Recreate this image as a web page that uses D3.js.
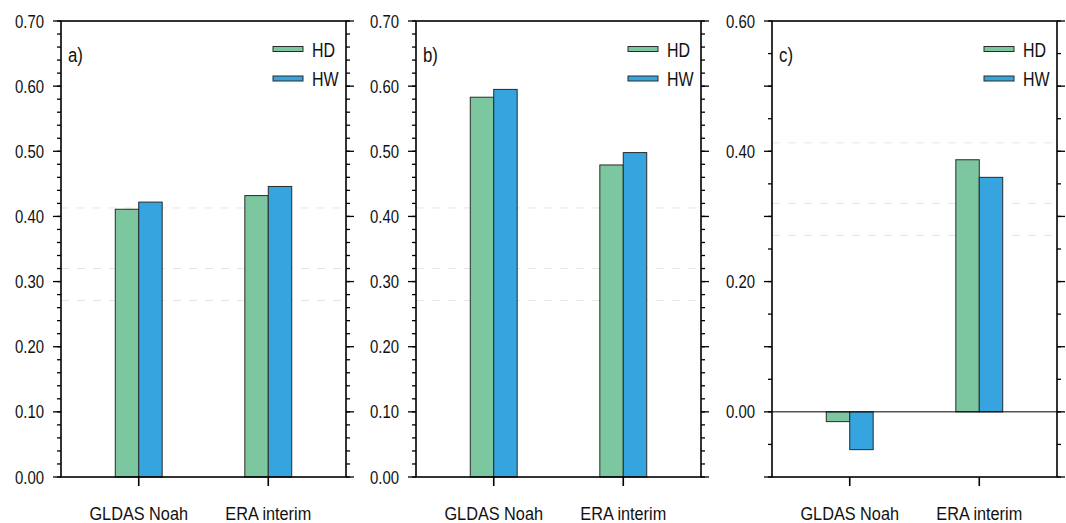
<!DOCTYPE html>
<html lang="en">
<head>
<meta charset="UTF-8">
<title>HD / HW bar panels</title>
<script src="https://d3js.org/d3.v7.min.js"></script>
<style>
    body { margin: 0; background: #fff; }
    svg text { font-family: "Liberation Sans", Arial, Helvetica, sans-serif; fill: #111; }
    .frame { fill: none; stroke: #000; stroke-width: 1.6px; }
    .ref-line { stroke: #e6e6e6; stroke-width: 1px; stroke-dasharray: 8 8; }
    .bar { stroke: #2a2a2a; stroke-width: 1px; }
</style>
</head>
<body>
<svg id="chart" width="1066" height="523"></svg>
<script>
    const categories = ["GLDAS Noah", "ERA interim"];
    const seriesNames = ["HD", "HW"];
    const seriesColors = ["#7cc7a0", "#36a5df"];

    const panelA_HD = [0.411, 0.432];
    const panelA_HW = [0.422, 0.446];
    const panelB_HD = [0.583, 0.479];
    const panelB_HW = [0.595, 0.498];
    const panelC_HD = [-0.015, 0.387];
    const panelC_HW = [-0.058, 0.360];

    // faint dashed reference levels (same in every panel)
    const refLevels = [0.413, 0.320, 0.271];

    const ticksAB = [0, 0.1, 0.2, 0.3, 0.4, 0.5, 0.6, 0.7];
    const ticksC = [0, 0.2, 0.4, 0.6];

    const panels = [
        { label: "a)", left: 61, hd: panelA_HD, hw: panelA_HW, domain: [0, 0.7], labels: ticksAB, major: 0.1, minor: 0.02 },
        { label: "b)", left: 416, hd: panelB_HD, hw: panelB_HW, domain: [0, 0.7], labels: ticksAB, major: 0.1, minor: 0.02 },
        { label: "c)", left: 772, hd: panelC_HD, hw: panelC_HW, domain: [-0.1, 0.6], labels: ticksC, major: 0.1, minor: 0.05, zero: true }
    ];

    const plotTop = 21, plotBottom = 477, pw = 285;
    const svg = d3.select("#chart");

    // condensed text: the original uses a narrow Helvetica
    function narrowText(g, x, y, str, size, sx, anchor) {
        return g.append("text")
            .attr("transform", `translate(${x},${y}) scale(${sx},1)`)
            .attr("font-size", size)
            .attr("text-anchor", anchor || "start")
            .text(str);
    }

    panels.forEach(p => {
        const g = svg.append("g").attr("transform", `translate(${p.left},${plotTop})`);
        const h = plotBottom - plotTop;

        const x = d3.scaleLinear().domain([0.4, 2.6]).range([0, pw]);
        const y = d3.scaleLinear().domain(p.domain).range([h, 0]);
        const barW = x(1.181) - x(1);

        // reference dashes behind bars
        g.selectAll(".ref-line")
            .data(refLevels)
            .join("line")
            .attr("class", "ref-line")
            .attr("x1", 0).attr("x2", pw)
            .attr("y1", d => y(d)).attr("y2", d => y(d));

        // bars
        const rows = categories.map((c, i) => [p.hd[i], p.hw[i]]);
        rows.forEach((vals, i) => {
            vals.forEach((v, s) => {
                const x0 = s === 0 ? x(i + 1) - barW : x(i + 1);
                g.append("rect")
                    .attr("class", "bar")
                    .attr("x", x0)
                    .attr("width", barW)
                    .attr("y", y(Math.max(0, v)))
                    .attr("height", Math.abs(y(v) - y(0)))
                    .attr("fill", seriesColors[s]);
            });
        });

        if (p.zero) {
            g.append("line")
                .attr("x1", 0).attr("x2", pw)
                .attr("y1", y(0)).attr("y2", y(0))
                .attr("stroke", "#000").attr("stroke-width", 1);
        }

        // minor + major ticks, both sides, outward
        const minorVals = d3.range(p.domain[0], p.domain[1] + 1e-9, p.minor);
        const majorVals = d3.range(p.domain[0], p.domain[1] + 1e-9, p.major);
        [[minorVals, 4], [majorVals, 8]].forEach(([vals, len]) => {
            g.append("g").selectAll("line").data(vals).join("line")
                .attr("x1", -len).attr("x2", 0)
                .attr("y1", d => y(d)).attr("y2", d => y(d))
                .attr("stroke", "#000").attr("stroke-width", 1.3);
            g.append("g").selectAll("line").data(vals).join("line")
                .attr("x1", pw).attr("x2", pw + len)
                .attr("y1", d => y(d)).attr("y2", d => y(d))
                .attr("stroke", "#000").attr("stroke-width", 1.3);
        });

        // y labels
        p.labels.forEach(v => {
            narrowText(g, -17, y(v) + 6.5, d3.format(".2f")(v), 18, 0.83, "end");
        });

        // x ticks + labels
        categories.forEach((c, i) => {
            g.append("line")
                .attr("x1", x(i + 1)).attr("x2", x(i + 1))
                .attr("y1", h).attr("y2", h + 9)
                .attr("stroke", "#000").attr("stroke-width", 1.6);
            narrowText(g, x(i + 1), h + 43, c, 18.5, 0.88, "middle");
        });

        g.append("rect").attr("class", "frame")
            .attr("x", 0).attr("y", 0).attr("width", pw).attr("height", h);

        // panel label
        narrowText(g, 7, 41, p.label, 21, 0.8);

        // legend
        seriesNames.forEach((name, s) => {
            const ly = 28 + s * 29.5;
            g.append("rect")
                .attr("x", 212).attr("y", ly - 2.5)
                .attr("width", 30).attr("height", 5)
                .attr("fill", seriesColors[s])
                .attr("stroke", "#2a2a2a").attr("stroke-width", 1);
            narrowText(g, 251, ly + 7.5, name, 21, 0.76);
        });
    });
</script>
</body>
</html>
